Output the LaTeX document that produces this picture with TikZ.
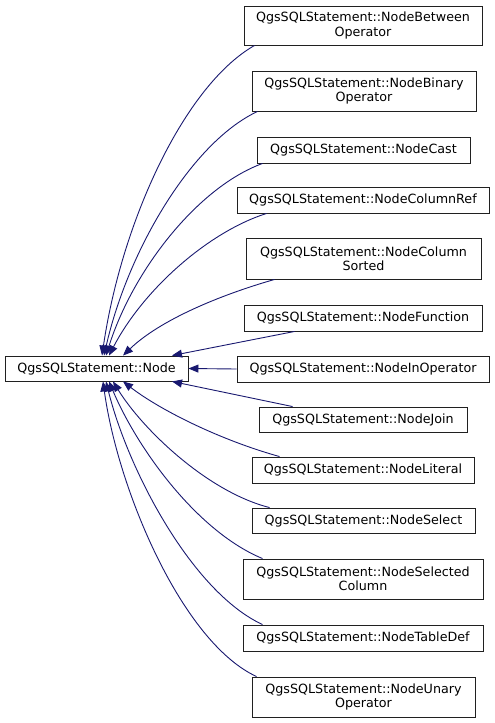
\documentclass[tikz,border=0pt]{standalone}
\usepackage{fontspec}
\setmainfont{DejaVu Sans}
\usetikzlibrary{arrows.meta}
\definecolor{edgec}{HTML}{191970}
\definecolor{boxc}{HTML}{202020}
\begin{document}
\begin{tikzpicture}[x=1pt,y=1pt,
  box/.style={draw=boxc, line width=0.9pt, fill=white, inner sep=0pt, align=center,
    font=\fontsize{12.7}{14.2}\selectfont},
  edge/.style={draw=edgec, line width=0.9pt, -{Triangle[length=10pt,width=8pt]}, fill=none}]
\useasboundingbox (0,0) rectangle (495,-723);

\node[box, minimum width=183pt, minimum height=25pt] (base) at (96.5,-368.5) {QgsSQLStatement::Node};

\node[box, minimum width=238pt, minimum height=39pt] (n1) at (363,-25.5) {QgsSQLStatement::NodeBetween\\Operator};
\node[box, minimum width=224pt, minimum height=40pt] (n2) at (364,-91) {QgsSQLStatement::NodeBinary\\Operator};
\node[box, minimum width=213pt, minimum height=26pt] (n3) at (363.5,-150) {QgsSQLStatement::NodeCast};
\node[box, minimum width=252pt, minimum height=26pt] (n4) at (363,-200) {QgsSQLStatement::NodeColumnRef};
\node[box, minimum width=235pt, minimum height=41pt] (n5) at (363.5,-258.5) {QgsSQLStatement::NodeColumn\\Sorted};
\node[box, minimum width=238pt, minimum height=26pt] (n6) at (363,-318) {QgsSQLStatement::NodeFunction};
\node[box, minimum width=252pt, minimum height=26pt] (n7) at (363,-369) {QgsSQLStatement::NodeInOperator};
\node[box, minimum width=208pt, minimum height=25pt] (n8) at (363,-419.5) {QgsSQLStatement::NodeJoin};
\node[box, minimum width=222pt, minimum height=26pt] (n9) at (363,-470) {QgsSQLStatement::NodeLiteral};
\node[box, minimum width=223pt, minimum height=25pt] (n10) at (363.5,-520.5) {QgsSQLStatement::NodeSelect};
\node[box, minimum width=240pt, minimum height=40pt] (n11) at (363,-579) {QgsSQLStatement::NodeSelected\\Column};
\node[box, minimum width=240pt, minimum height=26pt] (n12) at (363,-638) {QgsSQLStatement::NodeTableDef};
\node[box, minimum width=223pt, minimum height=40pt] (n13) at (363.5,-697) {QgsSQLStatement::NodeUnary\\Operator};

% upper edges
\draw[edge] ([xshift=11pt]n1.south west) .. controls (185,-85) and (122,-220) .. ([xshift=5.5pt]base.north);
\draw[edge] ([xshift=6pt]n2.south west) .. controls (192,-142) and (128,-250) .. ([xshift=7.5pt]base.north);
\draw[edge] ([xshift=6pt]n3.south west) .. controls (198,-187) and (133,-270) .. ([xshift=9.5pt]base.north);
\draw[edge] ([xshift=30pt]n4.south west) .. controls (208,-232) and (143,-290) .. ([xshift=12.5pt]base.north);
\draw[edge] ([xshift=29pt]n5.south west) .. controls (220,-295) and (160,-320) .. ([xshift=26.5pt]base.north);
\draw[edge] ([xshift=51pt]n6.south west) -- ([xshift=75.5pt]base.north);
\draw[edge] (n7.west) -- (base.east);
% lower edges
\draw[edge] ([xshift=34pt]n8.north west) -- ([xshift=75.5pt]base.south);
\draw[edge] ([xshift=28pt]n9.north west) .. controls (220,-440) and (160,-410) .. ([xshift=26.5pt]base.south);
\draw[edge] ([xshift=18pt]n10.north west) .. controls (208,-492) and (143,-430) .. ([xshift=16.5pt]base.south);
\draw[edge] ([xshift=20pt]n11.north west) .. controls (198,-532) and (138,-450) .. ([xshift=12.5pt]base.south);
\draw[edge] ([xshift=20pt]n12.north west) .. controls (192,-592) and (128,-470) .. ([xshift=9.5pt]base.south);
\draw[edge] ([xshift=5pt]n13.north west) .. controls (182,-642) and (118,-490) .. ([xshift=6.5pt]base.south);
\end{tikzpicture}
\end{document}
